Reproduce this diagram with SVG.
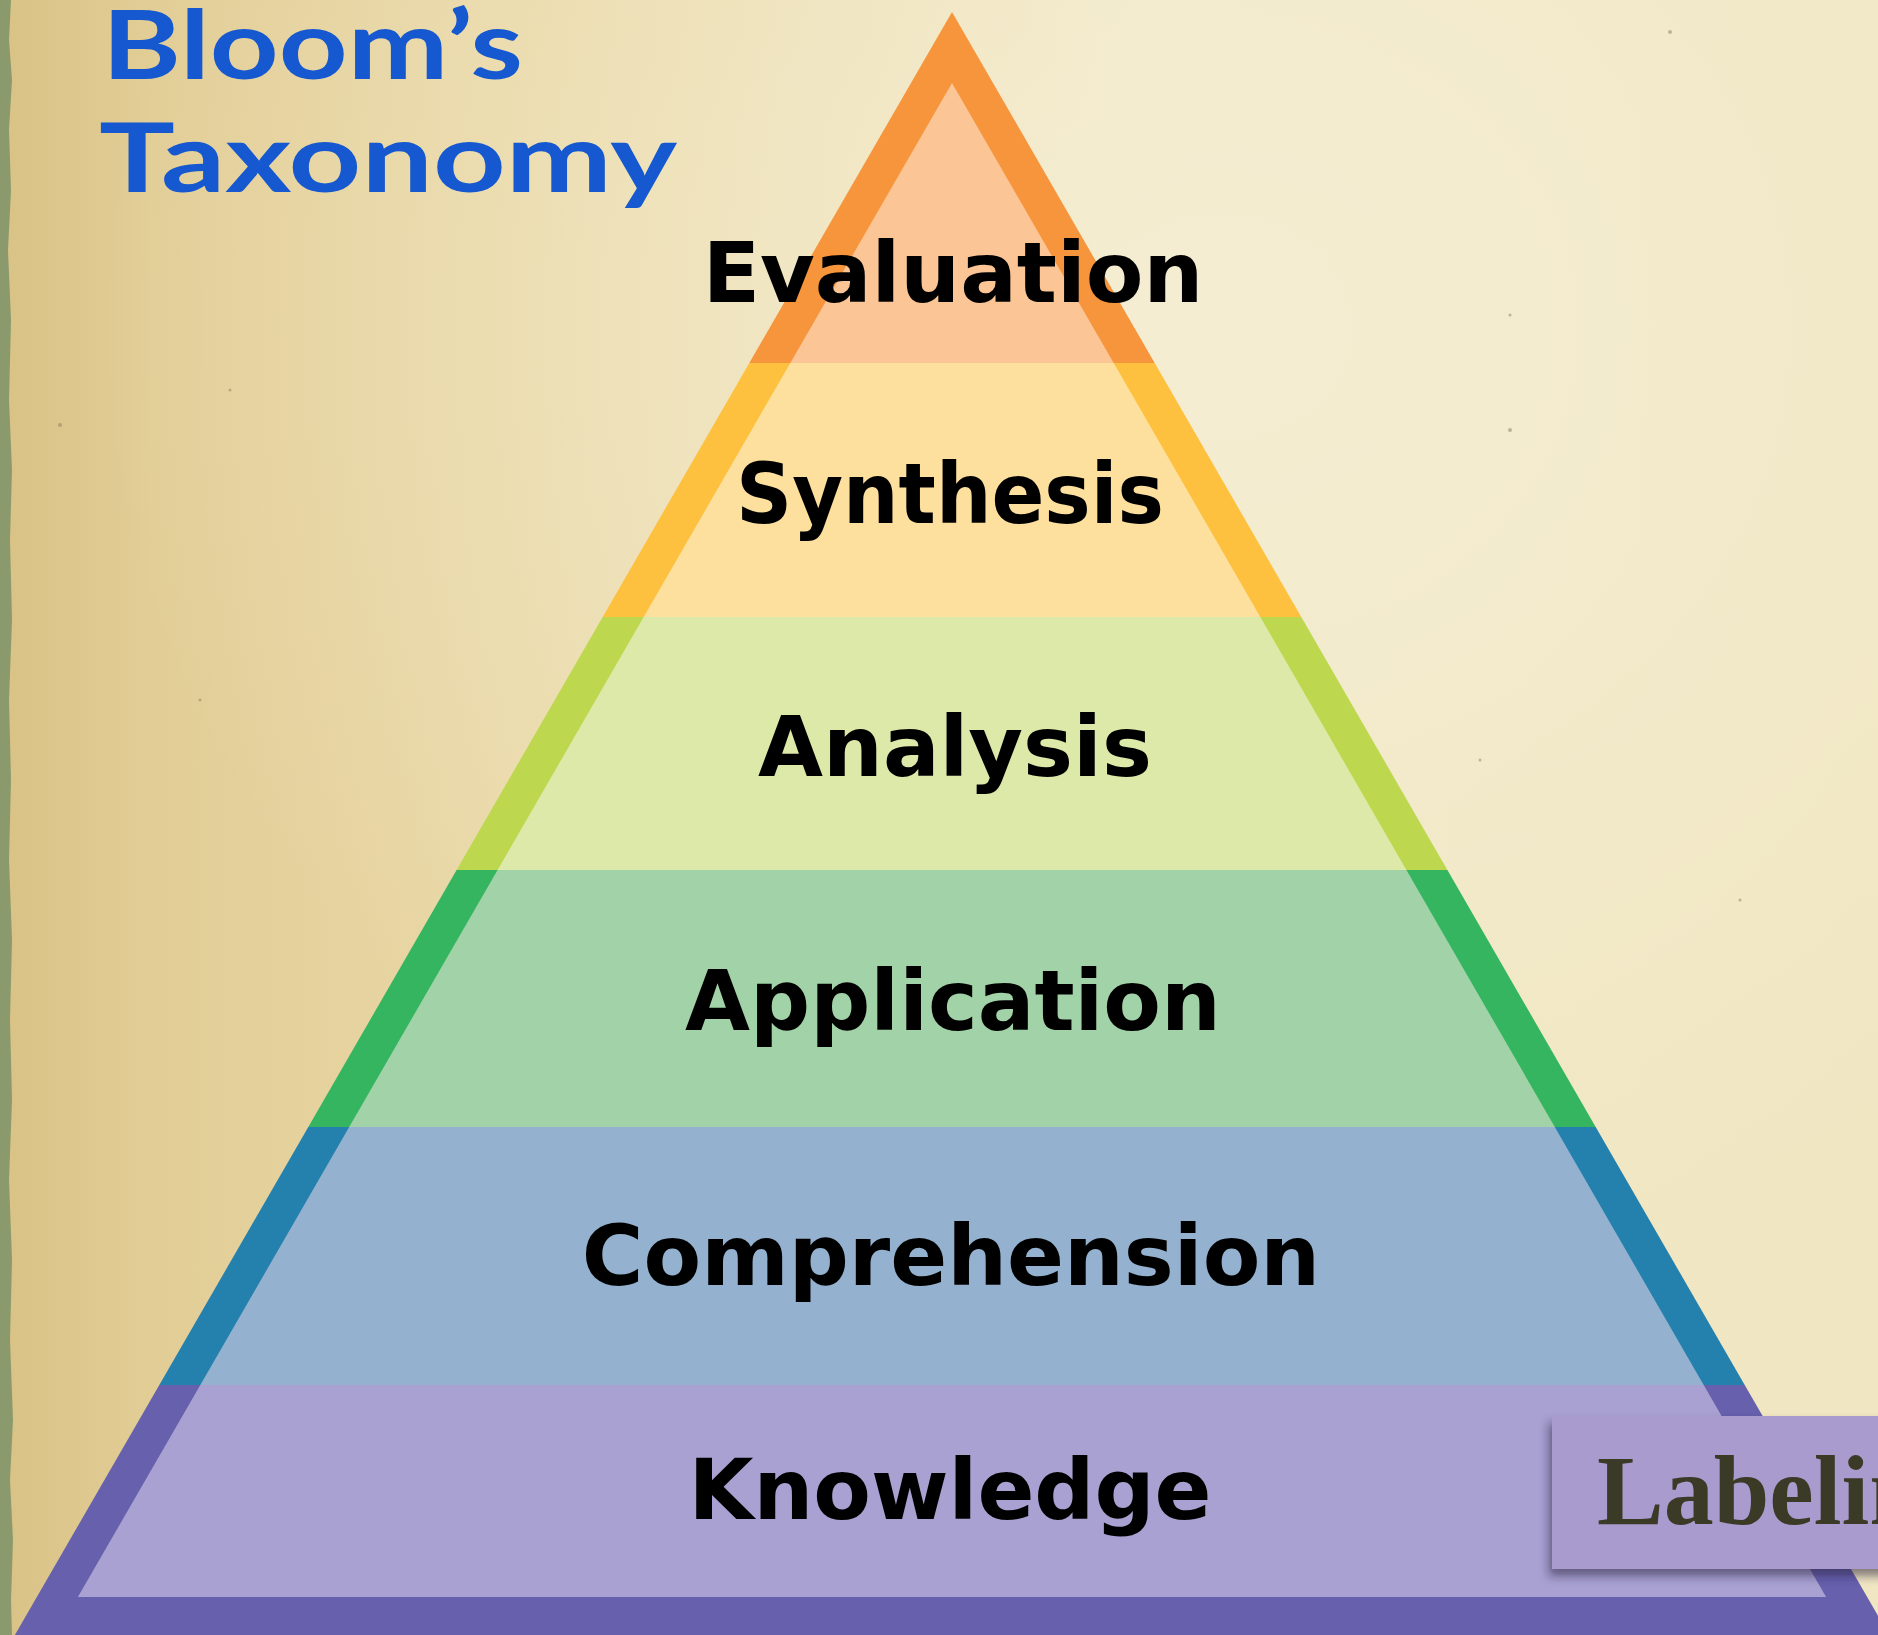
<svg xmlns="http://www.w3.org/2000/svg" width="1878" height="1635" viewBox="0 0 1878 1635">
  <defs>
    <linearGradient id="paper" x1="0" y1="0" x2="1" y2="0">
      <stop offset="0" stop-color="#d9c285"/>
      <stop offset="0.08" stop-color="#e2cd96"/>
      <stop offset="0.3" stop-color="#ead9a8"/>
      <stop offset="0.6" stop-color="#f1e7c4"/>
      <stop offset="1" stop-color="#f0e6c2"/>
    </linearGradient>
    <radialGradient id="glow" cx="0.65" cy="0.2" r="0.6">
      <stop offset="0" stop-color="#f6f0d8" stop-opacity="0.7"/>
      <stop offset="1" stop-color="#f6f0d8" stop-opacity="0"/>
    </radialGradient>
    <filter id="shadow" x="-10%" y="-20%" width="130%" height="150%">
      <feDropShadow dx="-3" dy="7" stdDeviation="5" flood-color="#2a2340" flood-opacity="0.55"/>
    </filter>
  </defs>
  <style>
    .lbl { font-family: "DejaVu Sans", Verdana, sans-serif; font-weight: bold; font-size: 84px; fill: #000; text-anchor: middle; }
    .title { font-family: Lato, "Liberation Sans", sans-serif; font-weight: bold; font-size: 96px; fill: #1558cf; }
    .tag { font-family: "Liberation Serif", serif; font-weight: bold; font-size: 100px; fill: #3b3a27; }
  </style>

  <!-- background paper -->
  <rect x="0" y="0" width="1878" height="1635" fill="url(#paper)"/>
  <rect x="0" y="0" width="1878" height="1635" fill="url(#glow)"/>
  <path d="M0 0 H11 L9 40 L12 80 L9 130 L11 190 L8 250 L11 320 L9 400 L12 470 L10 540 L12 620 L9 700 L11 780 L9 860 L12 940 L10 1020 L12 1100 L9 1180 L12 1260 L10 1340 L13 1420 L10 1480 L13 1540 L11 1600 L12 1635 H0 Z" fill="#8b9a6c"/>
  <g fill="#8a7d5a" opacity="0.5">
    <circle cx="60" cy="425" r="2"/>
    <circle cx="230" cy="390" r="1.5"/>
    <circle cx="1670" cy="32" r="2"/>
    <circle cx="1510" cy="315" r="1.5"/>
    <circle cx="1510" cy="430" r="2"/>
    <circle cx="200" cy="700" r="1.5"/>
    <circle cx="1480" cy="760" r="1.5"/>
    <circle cx="1740" cy="900" r="1.5"/>
  </g>

  <!-- pyramid layers -->
  <g id="evaluation">
    <polygon points="952,12 1154.7,363 749.3,363" fill="#f6953c"/>
    <polygon points="952,83 1113.7,363 790.3,363" fill="#fbc595"/>
    <text class="lbl" x="953" y="302">Evaluation</text>
  </g>
  <g id="synthesis">
    <polygon points="749.3,363 1154.7,363 1301.3,617 602.7,617" fill="#fdc13f"/>
    <polygon points="790.3,363 1113.7,363 1260.3,617 643.7,617" fill="#fde09e"/>
    <text class="lbl" x="950" y="523" textLength="428" lengthAdjust="spacingAndGlyphs">Synthesis</text>
  </g>
  <g id="analysis">
    <polygon points="602.7,617 1301.3,617 1447.4,870 456.6,870" fill="#bdd84e"/>
    <polygon points="643.7,617 1260.3,617 1406.4,870 497.6,870" fill="#dde9a9"/>
    <text class="lbl" x="955" y="776">Analysis</text>
  </g>
  <g id="application">
    <polygon points="456.6,870 1447.4,870 1595.7,1127 308.3,1127" fill="#35b560"/>
    <polygon points="497.6,870 1406.4,870 1554.8,1127 349.2,1127" fill="#a2d3a8"/>
    <text class="lbl" x="953" y="1030">Application</text>
  </g>
  <g id="comprehension">
    <polygon points="308.3,1127 1595.7,1127 1744.7,1385 159.3,1385" fill="#2480ad"/>
    <polygon points="349.2,1127 1554.8,1127 1703.7,1385 200.3,1385" fill="#94b2cf"/>
    <text class="lbl" x="951" y="1285">Comprehension</text>
  </g>
  <g id="knowledge">
    <polygon points="159.3,1385 1744.7,1385 1892,1640 12,1640" fill="#6660ad"/>
    <polygon points="200.3,1385 1703.7,1385 1826.1,1597 77.9,1597" fill="#a8a1d1"/>
    <text class="lbl" x="950" y="1519">Knowledge</text>
  </g>

  <!-- title -->
  <g id="title">
    <text class="title" x="102" y="79" textLength="421" lengthAdjust="spacingAndGlyphs">Bloom’s</text>
    <text class="title" x="99" y="192" textLength="578" lengthAdjust="spacingAndGlyphs">Taxonomy</text>
  </g>

  <!-- labeling tag -->
  <g id="labeling">
    <rect x="1552" y="1416" width="360" height="153" fill="#aa9bcf" filter="url(#shadow)"/>
    <text class="tag" x="1597" y="1524">Labeling</text>
  </g>
</svg>
